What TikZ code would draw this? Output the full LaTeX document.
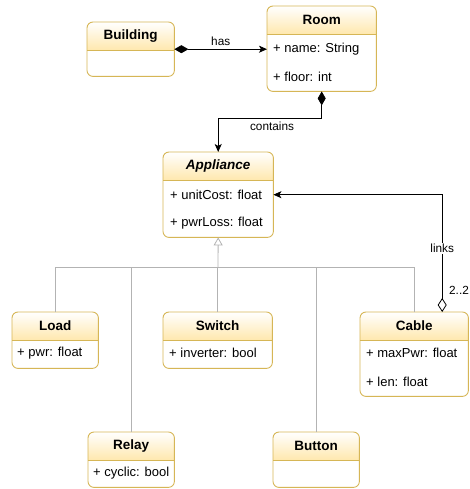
\documentclass[tikz,border=0pt]{standalone}
\usepackage{fontspec}
\setmainfont{Liberation Sans}
\usepackage{xcolor}
\definecolor{clsborder}{HTML}{D6B656}
\definecolor{clshead}{HTML}{FFE8AE}
\definecolor{gengray}{HTML}{B3B3B3}
\usetikzlibrary{arrows.meta,calc}

% class box: name, left, top, width, height, title
\newcommand{\UmlClass}[6]{%
  \node[clsbody, minimum width=#4pt, minimum height=#5pt, anchor=north west] (#1) at (#2,#3) {};
  \begin{scope}
    \clip[rounded corners=6pt] (#1.north west) rectangle (#1.south east);
    \shade[top color=white, bottom color=clshead]
      (#1.north west) rectangle ([yshift=-28pt]#1.north east);
  \end{scope}
  \draw[frame] ([yshift=-28pt]#1.north west) -- ([yshift=-28pt]#1.north east);
  \draw[frame, rounded corners=6pt] (#1.north west) rectangle (#1.south east);
  \node[clstitle] (#1-title) at ([yshift=-14pt]#1.north) {#6};
}

\begin{document}
\begin{tikzpicture}[x=1pt, y=-1pt,
  every node/.style={font=\fontsize{13}{15}\selectfont},
  clsbody/.style={rectangle, rounded corners=6pt, fill=white, inner sep=0pt},
  frame/.style={draw=clsborder, line width=0.9pt},
  clstitle/.style={font=\fontsize{13.5}{15}\selectfont\bfseries, inner sep=0pt},
  attr/.style={anchor=west, inner sep=0pt},
  lbl/.style={font=\fontsize{11.8}{14}\selectfont, inner sep=1pt},
  compo/.style={draw, line width=0.8pt,
    {Diamond[length=14pt, width=8pt]}-{Stealth[length=8pt, width=7pt, inset=2pt]}},
  aggr/.style={draw, line width=0.8pt,
    {Diamond[open, length=14pt, width=9pt]}-{Stealth[length=8pt, width=7pt, inset=2pt]}},
  gen/.style={draw=gengray, line width=0.8pt, -{Triangle[open, length=8pt, width=9pt]}},
  genline/.style={draw=gengray, line width=0.8pt}
]
\useasboundingbox (0,0) rectangle (469,489);

\UmlClass{building}{87}{22}{87}{54}{Building}
\UmlClass{room}{267}{6}{109}{85}{Room}
\node[attr] (room-name)  at (273,49) {+ name: String};
\node[attr] (room-floor) at (273,77) {+ floor: int};

\UmlClass{appliance}{163}{152}{110}{85}{\itshape Appliance}
\node[attr] (app-cost) at (170,195) {+ unitCost: float};
\node[attr] (app-loss) at (170,223) {+ pwrLoss: float};

\UmlClass{load}{12}{312}{86}{56}{Load}
\node[attr] (load-pwr) at (17,353) {+ pwr: float};
\UmlClass{switch}{163}{312}{109}{56}{Switch}
\node[attr] (switch-inv) at (169,353) {+ inverter: bool};
\UmlClass{cable}{360}{312}{108}{84}{Cable}
\node[attr] (cable-max) at (366,353) {+ maxPwr: float};
\node[attr] (cable-len) at (366,382) {+ len: float};
\UmlClass{relay}{88}{432}{86}{55}{Relay}
\node[attr] (relay-cyc) at (93,473) {+ cyclic: bool};
\UmlClass{button}{273}{432}{86}{55}{Button}

% associations
\draw[compo] (building.east) -- (building.east -| room.west)
  node[lbl, midway, above=2pt] {has};
\draw[compo] (room.south) -- ++(0,27) -| (appliance.north)
  node[lbl, pos=0.24, below=2pt] {contains};
\coordinate (cable-end) at ([xshift=28pt]cable.north);
\draw[aggr] (cable-end) |- (appliance.east)
  node[lbl, pos=0.27, fill=white] {links};
\node[lbl] (cable-mult) at (459,290) {2..2};

% generalization
\coordinate (split) at (218,267);
\draw[gen] (split) -- (appliance.south);
\foreach \c in {load, relay, switch, button, cable}
  \draw[genline] (\c.north) |- (split);
\end{tikzpicture}
\end{document}
